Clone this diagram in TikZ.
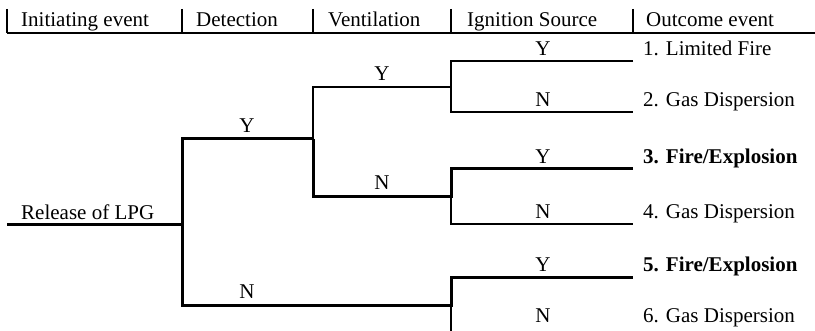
\documentclass[tikz,border=0pt]{standalone}
\usepackage{fontspec}
\setmainfont{Liberation Serif}
\begin{document}
\begin{tikzpicture}[x=1pt,y=-1pt,
  txt/.style={font=\fontsize{21pt}{25pt}\selectfont,inner sep=0pt},
  lbl/.style={txt,anchor=base},
  hdr/.style={txt,anchor=base west},
  outc/.style={txt,anchor=base west},
  thinln/.style={line width=1.4pt,line join=miter},
  thickln/.style={line width=3pt,line join=miter},
  sepln/.style={line width=1.8pt},
  rule/.style={line width=2.2pt}]
\useasboundingbox (0,0) rectangle (815,331);

% header
\node[hdr] (h1) at (21,26.5) {Initiating event};
\node[hdr] (h2) at (196,26.5) {Detection};
\node[hdr] (h3) at (328,26.5) {Ventilation};
\node[hdr] (h4) at (467,26.5) {Ignition Source};
\node[hdr] (h5) at (646,26.5) {Outcome event};
\coordinate (r0) at (7,33);
\coordinate (r1) at (815,33);
\foreach \x/\n in {7/a,182/b,313/c,451/d,633/e}{
  \coordinate (s\n) at (\x,9);
  \coordinate (t\n) at (\x,33);
  \draw[sepln] (s\n) -- (t\n);
}
\draw[rule] (r0) -- (r1);

% branch points
\coordinate (root) at (7,225);
\coordinate (det)  at (182,225);
\coordinate (detY) at (182,139);
\coordinate (detN) at (182,306);
\coordinate (ven)  at (313,139);
\coordinate (venY) at (313,87);
\coordinate (venN) at (313,197);
\coordinate (ig1)  at (451,87);
\coordinate (ig1Y) at (451,61);
\coordinate (ig1N) at (451,112);
\coordinate (ig2)  at (451,197);
\coordinate (ig2Y) at (451,169);
\coordinate (ig2N) at (451,224);
\coordinate (ig3)  at (451,306);
\coordinate (ig3Y) at (451,278);
\coordinate (ig3N) at (451,331);
\coordinate (e1) at (633,61);
\coordinate (e2) at (633,112);
\coordinate (e3) at (633,169);
\coordinate (e4) at (633,224);
\coordinate (e5) at (633,278);

% thin branches
\draw[thinln] (ven) -- (venY) -- (ig1);
\draw[thinln] (e1) -- (ig1Y) -- (ig1N) -- (e2);
\draw[thinln] (ig2) -- (ig2N) -- (e4);
\draw[thinln] (ig3) -- (ig3N);

% thick branches (paths leading to fire/explosion)
\draw[thickln] (root) -- (det);
\draw[thickln] (ven) -- (detY) -- (detN) -- (ig3) -- (ig3Y) -- (e5);
\draw[thickln] (ven) -- (venN) -- (ig2) -- (ig2Y) -- (e3);

% branch labels
\node[txt,anchor=base west] (rel) at (21,220) {Release of LPG};
\node[lbl] (dY) at (247,133) {Y};
\node[lbl] (dN) at (247,299) {N};
\node[lbl] (vY) at (382,81) {Y};
\node[lbl] (vN) at (382,190) {N};
\node[lbl] (i1Y) at (543,56) {Y};
\node[lbl] (i1N) at (543,107) {N};
\node[lbl] (i2Y) at (543,164) {Y};
\node[lbl] (i2N) at (543,219) {N};
\node[lbl] (i3Y) at (543,272) {Y};
\node[lbl] (i3N) at (543,323) {N};

% outcomes
\node[outc] (o1) at (643,56) {1. Limited Fire};
\node[outc] (o2) at (643,107) {2. Gas Dispersion};
\node[outc] (o3) at (643,164) {\textbf{3. Fire/Explosion}};
\node[outc] (o4) at (643,219) {4. Gas Dispersion};
\node[outc] (o5) at (643,272) {\textbf{5. Fire/Explosion}};
\node[outc] (o6) at (643,323) {6. Gas Dispersion};
\end{tikzpicture}
\end{document}
